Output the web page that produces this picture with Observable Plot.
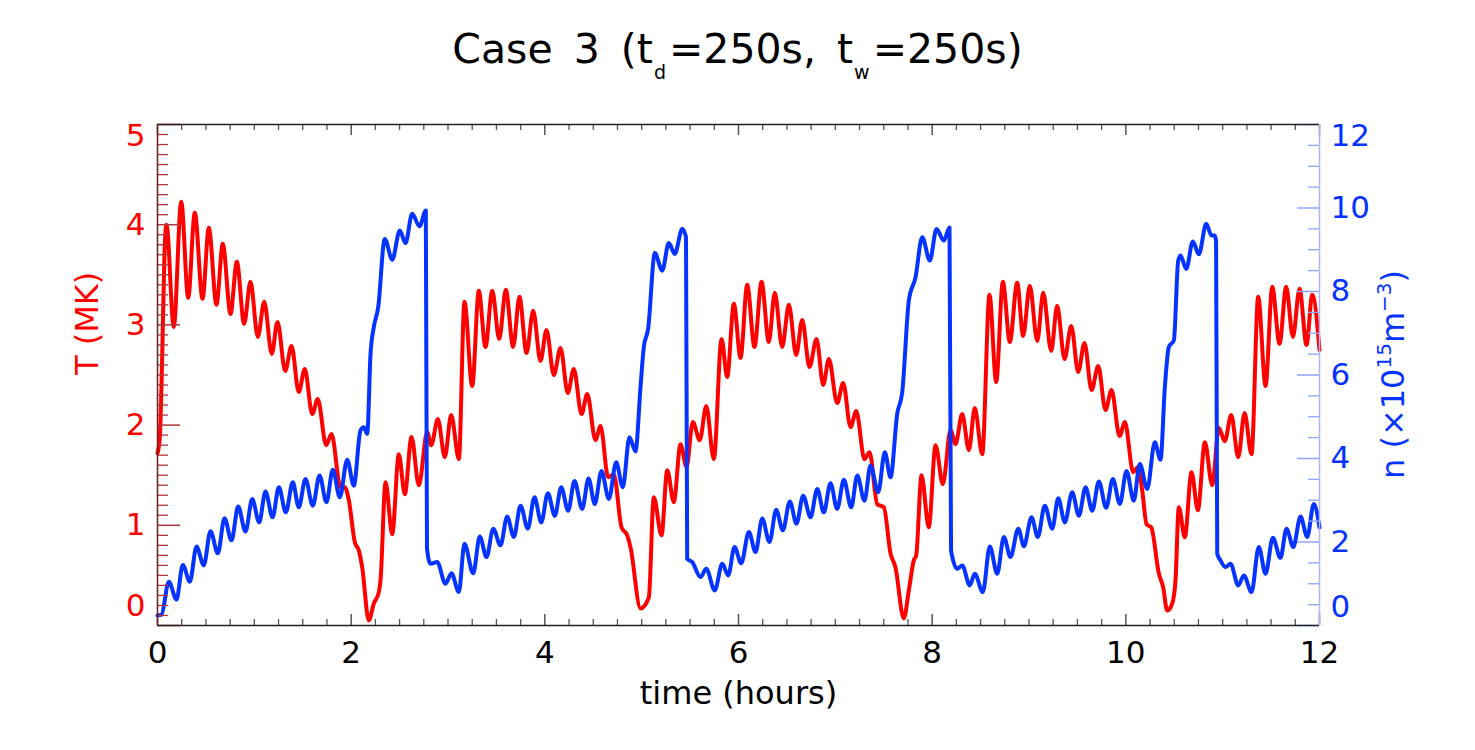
<!DOCTYPE html>
<html>
<head>
<meta charset="utf-8">
<script src="https://cdn.jsdelivr.net/npm/d3@7"></script>
<script src="https://cdn.jsdelivr.net/npm/@observablehq/plot@0.6"></script>
<style>
  body { margin: 0; background: #fff; }
  #wrap { position: relative; width: 1475px; height: 750px; font-family: "DejaVu Sans", sans-serif; }
  #title {
    position: absolute; left: 0; top: 5px; width: 1475px; height: 98px;
    display: flex; align-items: center; justify-content: center;
    font-size: 41px; color: #000; white-space: pre; word-spacing: 8px;
  }
  #title .sub { font-size: 19px; vertical-align: -16px; margin-left: 1px; margin-right: 3px; }
</style>
</head>
<body>
<div id="wrap">
  <div id="title"><span>Case 3 (t<span class="sub">d</span>=250s, t<span class="sub">w</span>=250s)</span></div>
</div>
<script>
// Temperature (MK) against time (hours)
const timeT = [0,0.024,0.049,0.072,0.093,0.168,0.245,0.317,0.385,0.465,
  0.530,0.609,0.674,0.754,0.819,0.895,0.960,1.036,1.102,1.180,
  1.239,1.319,1.384,1.459,1.521,1.598,1.655,1.742,1.797,1.890,
  1.934,1.976,2.038,2.079,2.114,2.182,2.234,2.285,2.303,2.355,
  2.424,2.492,2.554,2.623,2.699,2.785,2.827,2.895,2.967,3.033,
  3.112,3.170,3.250,3.318,3.387,3.457,3.529,3.597,3.673,3.738,
  3.811,3.880,3.955,4.017,4.093,4.162,4.237,4.299,4.379,4.438,
  4.523,4.575,4.654,4.712,4.792,4.851,4.885,4.988,5.074,5.125,
  5.205,5.264,5.332,5.401,5.463,5.528,5.600,5.667,5.745,5.825,
  5.883,5.952,6.021,6.090,6.165,6.238,6.313,6.375,6.451,6.520,
  6.596,6.658,6.733,6.806,6.875,6.933,7.019,7.081,7.157,7.216,
  7.301,7.353,7.433,7.501,7.570,7.621,7.707,7.759,7.810,7.835,
  7.890,7.965,8.035,8.110,8.190,8.241,8.310,8.379,8.440,8.517,
  8.592,8.661,8.730,8.802,8.878,8.940,9.008,9.085,9.147,9.229,
  9.291,9.367,9.436,9.508,9.573,9.646,9.715,9.790,9.852,9.935,
  9.990,10.076,10.124,10.169,10.214,10.262,10.341,10.386,10.427,10.479,
  10.513,10.547,10.609,10.678,10.744,10.816,10.892,10.960,11.022,11.088,
  11.161,11.226,11.298,11.367,11.443,11.512,11.587,11.656,11.725,11.794,
  11.866,11.925,12.000];
const tempMK = [1.72,1.88,2.71,3.71,4.00,2.98,4.23,3.27,4.12,3.26,
  3.97,3.20,3.81,3.11,3.63,3.01,3.43,2.88,3.23,2.71,
  3.03,2.54,2.79,2.33,2.56,2.11,2.26,1.80,1.91,1.38,
  1.38,1.25,0.83,0.75,0.58,0.05,0.22,0.33,0.45,1.43,
  0.91,1.71,1.31,1.88,1.40,1.93,1.80,2.06,1.68,2.10,
  1.66,3.23,2.39,3.34,2.78,3.34,2.86,3.35,2.78,3.28,
  2.72,3.14,2.64,2.95,2.50,2.77,2.32,2.56,2.11,2.31,
  1.85,1.99,1.48,1.51,0.98,0.90,0.78,0.17,0.28,1.28,
  0.90,1.55,1.23,1.81,1.58,2.03,1.85,2.19,1.66,2.86,
  2.48,3.21,2.67,3.40,2.78,3.43,2.83,3.32,2.78,3.20,
  2.70,3.05,2.58,2.86,2.40,2.66,2.22,2.42,1.98,2.14,
  1.66,1.73,1.21,1.18,0.72,0.58,0.07,0.35,0.65,0.70,
  1.50,0.98,1.80,1.41,1.95,1.81,2.11,1.75,2.17,1.71,
  3.30,2.43,3.43,2.83,3.42,2.89,3.39,2.84,3.32,2.74,
  3.19,2.66,2.99,2.53,2.82,2.35,2.59,2.15,2.35,1.89,
  2.03,1.53,1.58,1.35,1.01,0.98,0.52,0.38,0.15,0.22,
  0.45,1.18,0.88,1.53,1.15,1.83,1.40,1.97,1.84,2.10,
  1.68,2.12,1.71,3.28,2.39,3.38,2.81,3.38,2.88,3.36,
  2.80,3.30,2.75];

// Density (10^15 m^-3) against time (hours)
const timeN = [0,0.041,0.117,0.196,0.261,0.334,0.403,0.478,0.547,0.623,
  0.692,0.764,0.833,0.909,0.978,1.050,1.115,1.188,1.253,1.325,
  1.397,1.459,1.528,1.604,1.673,1.745,1.810,1.883,1.959,2.027,
  2.096,2.131,2.166,2.200,2.234,2.279,2.347,2.424,2.502,2.561,
  2.630,2.706,2.771,2.783,2.819,2.888,2.974,3.036,3.112,3.170,
  3.260,3.328,3.398,3.467,3.542,3.611,3.680,3.749,3.824,3.893,
  3.963,4.031,4.103,4.169,4.241,4.306,4.386,4.451,4.516,4.585,
  4.661,4.737,4.805,4.874,4.936,4.988,5.022,5.067,5.136,5.212,
  5.280,5.342,5.419,5.458,5.470,5.522,5.608,5.667,5.755,5.832,
  5.894,5.959,6.028,6.107,6.176,6.245,6.320,6.389,6.458,6.530,
  6.599,6.668,6.744,6.813,6.881,6.950,7.019,7.088,7.164,7.226,
  7.301,7.363,7.443,7.511,7.570,7.639,7.691,7.759,7.828,7.897,
  7.976,8.045,8.120,8.179,8.195,8.259,8.310,8.389,8.440,8.523,
  8.595,8.672,8.740,8.809,8.889,8.947,9.026,9.091,9.163,9.240,
  9.302,9.370,9.446,9.515,9.584,9.653,9.721,9.797,9.866,9.938,
  10.007,10.082,10.144,10.221,10.299,10.358,10.403,10.444,10.496,10.541,
  10.565,10.624,10.692,10.754,10.830,10.885,10.919,10.932,10.944,10.978,
  11.029,11.081,11.161,11.219,11.298,11.373,11.443,11.518,11.597,11.659,
  11.729,11.804,11.873,11.941,12.000];
const dens = [0.24,0.26,1.05,0.62,1.45,1.05,1.89,1.44,2.26,1.73,
  2.57,2.04,2.85,2.25,3.03,2.47,3.21,2.59,3.31,2.71,
  3.43,2.83,3.51,2.87,3.59,2.95,3.73,3.07,3.97,3.35,
  4.67,4.75,4.59,6.51,7.15,7.62,9.26,8.76,9.46,9.16,
  9.86,9.56,9.94,1.85,1.48,1.52,1.00,1.25,0.80,1.96,
  1.25,2.13,1.64,2.32,1.92,2.61,2.12,2.87,2.32,3.07,
  2.47,3.17,2.63,3.31,2.75,3.46,2.79,3.52,2.91,3.70,
  3.03,3.91,3.31,4.51,4.17,5.71,6.67,7.11,8.92,8.50,
  9.16,8.90,9.50,9.30,1.60,1.52,1.16,1.36,0.84,1.48,
  1.20,1.88,1.49,2.24,1.76,2.56,2.00,2.77,2.28,2.97,
  2.44,3.11,2.59,3.27,2.71,3.41,2.79,3.49,2.83,3.59,
  2.99,3.83,3.19,4.15,3.55,5.07,5.59,7.78,8.34,9.30,
  8.74,9.50,9.22,9.53,1.80,1.36,1.44,0.96,1.24,0.80,
  1.89,1.24,2.12,1.64,2.32,1.90,2.59,2.12,2.87,2.32,
  3.05,2.47,3.19,2.63,3.31,2.75,3.45,2.82,3.51,2.91,
  3.70,2.99,3.87,3.27,4.39,3.97,5.71,6.67,6.83,8.74,
  8.86,8.54,9.20,8.89,9.62,9.34,9.34,9.20,1.72,1.56,
  1.40,1.48,0.96,1.20,0.80,1.88,1.24,2.10,1.62,2.32,
  1.88,2.61,2.12,2.91,2.35];

// Axis tick values
const timeTicks = [0, 2, 4, 6, 8, 10, 12];
const tempTicks = [0, 1, 2, 3, 4, 5];
const densTicks = [0, 2, 4, 6, 8, 10, 12];

const tempSeries = timeT.map((t, i) => ({t, v: tempMK[i]}));
const densSeries = timeN.map((t, i) => ({t, v: dens[i]}));

// Layout
const W = 1475, H = 750, mL = 157, mR = 156, mT = 124, mB = 125;
const plotW = W - mL - mR, plotH = H - mT - mB;
const tMax = 5, nMax = 12;
const nToT = n => n * tMax / nMax;   // right axis mapped onto the left scale

const RED = "#ff0000", BLUE = "#0533ff";
const leftTick = "#b3343a", rightTick = "#8fa3ff", frameTick = "#555";
const tickFont = 31, titleFont = 32;

const tMinor = d3.range(0, 51).filter(i => i % 10).map(i => i / 10);
const nMinor = d3.range(0, 25).filter(i => i % 4).map(i => i / 2);
const xMinor = d3.range(0, 49).filter(i => i % 8).map(i => i / 4);

const chart = Plot.plot({
  width: W, height: H,
  marginLeft: mL, marginRight: mR, marginTop: mT, marginBottom: mB,
  style: {fontFamily: '"DejaVu Sans", sans-serif', background: "white", overflow: "visible"},
  x: {domain: [0, 12], axis: null},
  y: {domain: [0, tMax], axis: null},
  marks: [
    // data lines
    Plot.line(tempSeries, {x: "t", y: "v", stroke: RED, strokeWidth: 4, curve: "monotone-x"}),
    Plot.line(densSeries, {x: "t", y: d => nToT(d.v), stroke: BLUE, strokeWidth: 4, curve: "monotone-x"}),

    // left (temperature) ticks
    Plot.ruleY(tMinor, {y: d => d, stroke: leftTick, strokeWidth: 1.3, insetRight: plotW - 11}),
    Plot.ruleY(tempTicks, {y: d => d, stroke: leftTick, strokeWidth: 1.5, insetRight: plotW - 23}),
    // right (density) ticks
    Plot.ruleY(nMinor, {y: d => nToT(d), stroke: rightTick, strokeWidth: 1.3, insetLeft: plotW - 11}),
    Plot.ruleY(densTicks, {y: d => nToT(d), stroke: rightTick, strokeWidth: 1.5, insetLeft: plotW - 22}),
    // bottom and top time ticks
    Plot.ruleX(xMinor, {x: d => d, stroke: frameTick, strokeWidth: 1.3, insetTop: plotH - 6}),
    Plot.ruleX(timeTicks, {x: d => d, stroke: frameTick, strokeWidth: 1.5, insetTop: plotH - 11}),
    Plot.ruleX(xMinor, {x: d => d, stroke: frameTick, strokeWidth: 1.3, insetBottom: plotH - 6}),
    Plot.ruleX(timeTicks, {x: d => d, stroke: frameTick, strokeWidth: 1.5, insetBottom: plotH - 11}),

    // frame
    Plot.ruleY([0, tMax], {y: d => d, stroke: "#222", strokeWidth: 1.5}),
    Plot.ruleX([0], {x: d => d, stroke: "#6e1e1e", strokeWidth: 1.5}),
    Plot.ruleX([12], {x: d => d, stroke: "#a9b6fb", strokeWidth: 1.5}),

    // left tick labels
    Plot.text(tempTicks.filter(v => v > 0 && v < tMax), {y: d => d, text: d => `${d}`, frameAnchor: "left", dx: -12, textAnchor: "end", fill: RED, fontSize: tickFont}),
    Plot.text([tMax], {y: d => d, text: d => `${d}`, frameAnchor: "left", dx: -12, dy: 12, textAnchor: "end", fill: RED, fontSize: tickFont}),
    Plot.text([0], {y: d => d, text: d => `${d}`, frameAnchor: "left", dx: -12, dy: -19, textAnchor: "end", fill: RED, fontSize: tickFont}),
    // right tick labels
    Plot.text(densTicks.filter(v => v > 0 && v < nMax), {y: d => nToT(d), text: d => `${d}`, frameAnchor: "right", dx: 11, textAnchor: "start", fill: BLUE, fontSize: tickFont}),
    Plot.text([nMax], {y: d => nToT(d), text: d => `${d}`, frameAnchor: "right", dx: 11, dy: 12, textAnchor: "start", fill: BLUE, fontSize: tickFont}),
    Plot.text([0], {y: d => nToT(d), text: d => `${d}`, frameAnchor: "right", dx: 11, dy: -18, textAnchor: "start", fill: BLUE, fontSize: tickFont}),
    // bottom tick labels
    Plot.text(timeTicks, {x: d => d, text: d => `${d}`, frameAnchor: "bottom", dy: 37, fill: "#000", fontSize: tickFont}),

    // axis titles
    Plot.text(["T (MK)"], {frameAnchor: "left", dx: -70, rotate: -90, fill: RED, fontSize: titleFont}),
    Plot.text(["time (hours)"], {frameAnchor: "bottom", dy: 78, fill: "#000", fontSize: titleFont})
  ]
});

// right axis title with superscripts
const svg = d3.select(chart);
const nLabel = svg.append("text")
  .attr("transform", `translate(${W - mR + 85},${mT + plotH / 2}) rotate(-90)`)
  .attr("text-anchor", "middle")
  .attr("fill", BLUE)
  .attr("font-size", titleFont)
  .attr("font-family", '"DejaVu Sans", sans-serif');
nLabel.append("tspan").text("n (×10");
nLabel.append("tspan").attr("dy", -13).attr("font-size", 20).text("15");
nLabel.append("tspan").attr("dy", 13).text("m");
nLabel.append("tspan").attr("dy", -13).attr("font-size", 20).text("−3");
nLabel.append("tspan").attr("dy", 13).text(")");

document.getElementById("wrap").appendChild(chart);
</script>
</body>
</html>
